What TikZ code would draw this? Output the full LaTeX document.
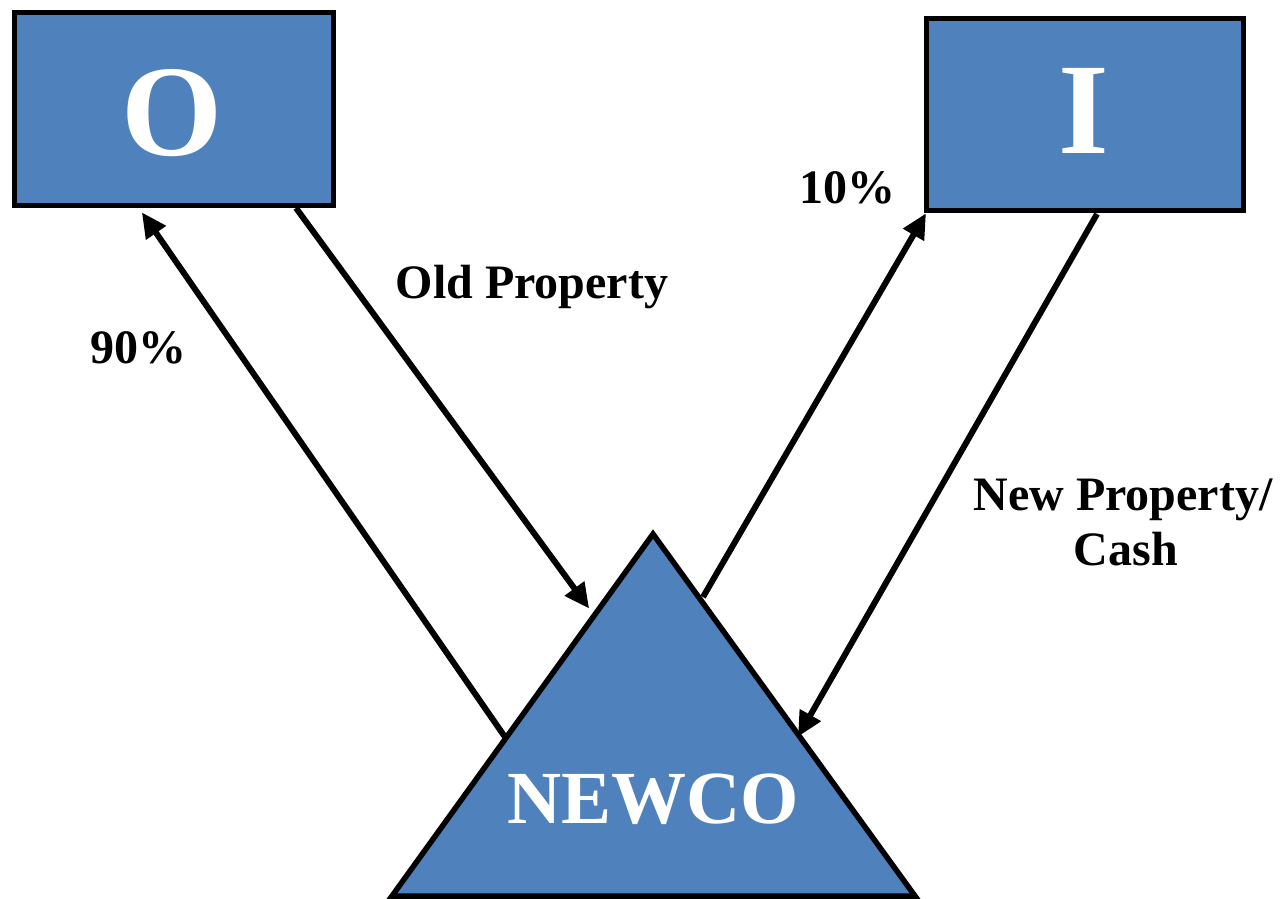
\documentclass[tikz,border=0pt]{standalone}
\usepackage{fontspec}
\setmainfont{Liberation Serif}
\usetikzlibrary{arrows.meta}
\definecolor{boxblue}{HTML}{4F81BD}
\tikzset{
  entity/.style={draw=black, line width=5.5pt, fill=boxblue},
  flow/.style={line width=6pt, -{Triangle[length=25pt,width=23pt]}, shorten >=-2pt},
  lbl/.style={font=\fontsize{48}{52}\selectfont\bfseries, text=black, anchor=base, inner sep=0pt},
  big/.style={font=\fontsize{130}{132}\selectfont\bfseries, text=white, anchor=base, inner sep=0pt},
  mid/.style={font=\fontsize{75}{80}\selectfont\bfseries, text=white, anchor=base, inner sep=0pt}
}
\begin{document}
\begin{tikzpicture}[x=1pt,y=-1pt]
\useasboundingbox (0,0) rectangle (1280,899);
% shapes
\path[entity] (14.5,12.5) rectangle (333.5,205.5);
\path[entity] (926.5,18.5) rectangle (1243.5,210.5);
\path[entity] (392,896) -- (653,534) -- (915,896) -- cycle;
% texts
\node[big] (O) at (172,155) {O};
\node[big] (I) at (1084,153) {I};
\node[mid] (N) at (653,823) {NEWCO};
\node[lbl] (op) at (532,298) {Old Property};
\node[lbl] (p90) at (138,363) {90\%};
\node[lbl] (p10) at (847,203) {10\%};
\node[lbl] (np) at (1123,510) {New Property/};
\node[lbl] (cash) at (1126,565) {Cash};
% connector ends
\coordinate (a1s) at (505,737);
\coordinate (a1e) at (143,214);
\coordinate (a2s) at (296,208);
\coordinate (a2e) at (588,607);
\coordinate (a3s) at (703,597);
\coordinate (a3e) at (925,215);
\coordinate (a4s) at (1097,214);
\coordinate (a4e) at (799,735);
\draw[flow] (a1s) -- (a1e);
\draw[flow] (a2s) -- (a2e);
\draw[flow] (a3s) -- (a3e);
\draw[flow] (a4s) -- (a4e);
\end{tikzpicture}
\end{document}
